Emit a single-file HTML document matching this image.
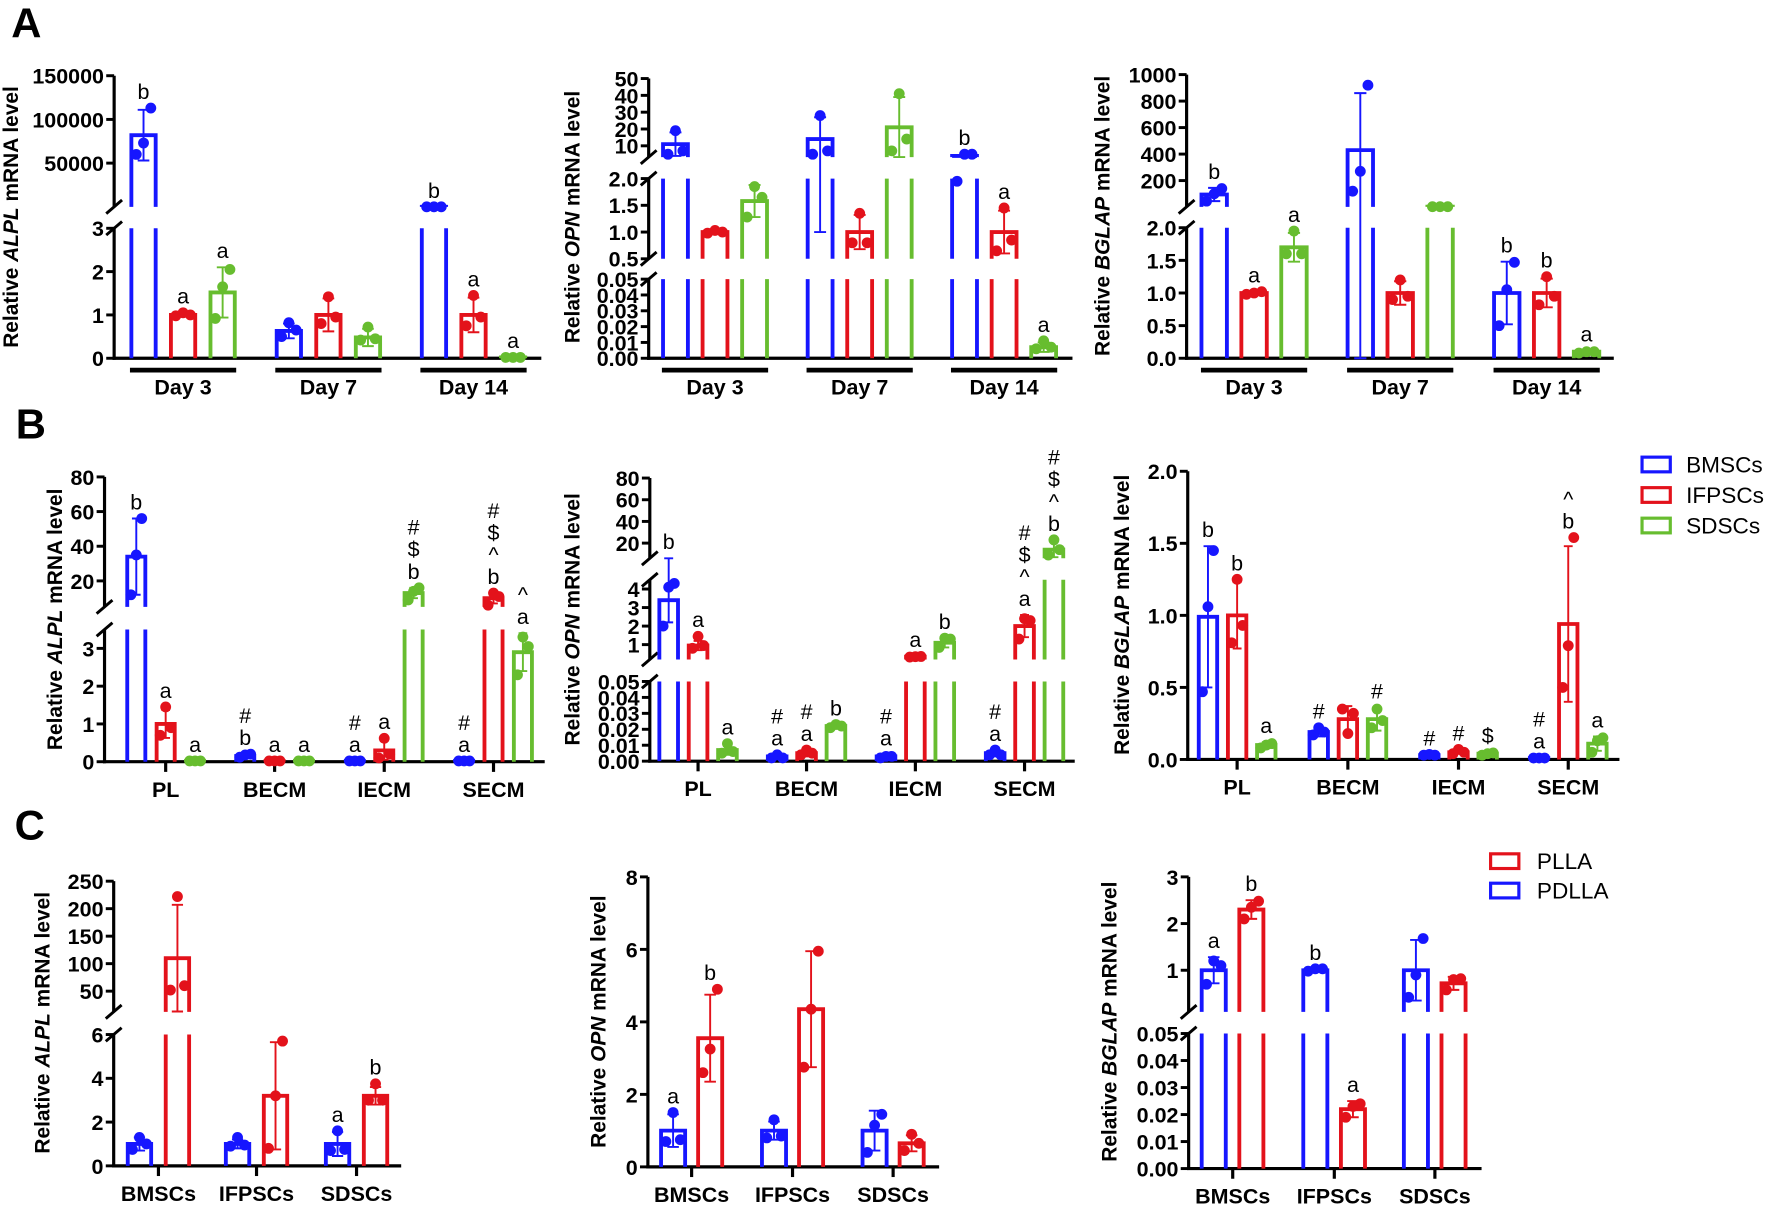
<!DOCTYPE html>
<html><head><meta charset="utf-8"><style>
html,body{margin:0;padding:0;background:#fff;}
svg{display:block;font-family:"Liberation Sans",Arial,sans-serif;}
</style></head><body>
<svg id="fig" width="1772" height="1207" viewBox="0 0 1568 1068" preserveAspectRatio="none" xmlns="http://www.w3.org/2000/svg"></svg>
<script>
// ===== DATA =====
// Panel A1 ALPL
const a1_cats=['Day 3','Day 7','Day 14'];
const a1_bm_mean=[82000,0.63,4];const a1_bm_sd=[29000,0.17,0];const a1_bm_pts=[[60000,73000,113000],[0.5,0.82,0.65],[4,4,4]];
const a1_if_mean=[1.0,1.0,1.0];const a1_if_sd=[0.03,0.38,0.4];const a1_if_pts=[[0.98,1.05,1.0],[0.8,1.42,0.95],[0.75,1.45,0.95]];
const a1_sd_mean=[1.52,0.48,0.02];const a1_sd_sd=[0.58,0.2,0.005];const a1_sd_pts=[[0.92,1.65,2.05],[0.42,0.72,0.45],[0.02,0.02,0.02]];
const a1_bm_ann=[['b'],[],['b']];const a1_if_ann=[['a'],[],['a']];const a1_sd_ann=[['a'],[],['a']];
const a1_ticks=[0,1,2,3,50000,100000,150000];const a1_tickLabels=['0','1','2','3','50000','100000','150000'];
// Panel A2 OPN
const a2_cats=['Day 3','Day 7','Day 14'];
const a2_bm_mean=[11,14,4];const a2_bm_sd=[7,13,0];const a2_bm_pts=[[5,19,7],[5,28,7],[1.95,5,5]];
const a2_if_mean=[1.0,1.0,1.0];const a2_if_sd=[0.03,0.32,0.4];const a2_if_pts=[[0.98,1.03,1.0],[0.8,1.35,0.8],[0.65,1.45,0.85]];
const a2_sd_mean=[1.58,21,0.007];const a2_sd_sd=[0.3,18,0.003];const a2_sd_pts=[[1.28,1.85,1.65],[7,41,14],[0.006,0.011,0.007]];
const a2_bm_ann=[[],[],['b']];const a2_if_ann=[[],[],['a']];const a2_sd_ann=[[],[],['a']];
const a2_ticks=[0,0.01,0.02,0.03,0.04,0.05,0.5,1.0,1.5,2.0,10,20,30,40,50];
const a2_tickLabels=['0.00','0.01','0.02','0.03','0.04','0.05','0.5','1.0','1.5','2.0','10','20','30','40','50'];
// Panel A3 BGLAP
const a3_cats=['Day 3','Day 7','Day 14'];
const a3_bm_mean=[95,430,1.0];const a3_bm_sd=[50,430,0.48];const a3_bm_pts=[[45,100,140],[120,270,920],[0.5,1.05,1.47]];
const a3_if_mean=[1,1,1];const a3_if_sd=[0.02,0.18,0.22];const a3_if_pts=[[0.98,1.0,1.02],[0.9,1.2,0.95],[0.82,1.25,0.95]];
const a3_sd_mean=[1.7,3,0.1];const a3_sd_sd=[0.22,0,0.02];const a3_sd_pts=[[1.6,1.95,1.6],[3,3,3],[0.08,0.1,0.1]];
const a3_bm_ann=[['b'],[],['b']];const a3_if_ann=[['a'],[],['b']];const a3_sd_ann=[['a'],[],['a']];
const a3_ticks=[0,0.5,1.0,1.5,2.0,200,400,600,800,1000];
const a3_tickLabels=['0.0','0.5','1.0','1.5','2.0','200','400','600','800','1000'];
// Panel B1 ALPL
const b1_cats=['PL','BECM','IECM','SECM'];
const b1_bm_mean=[34,0.15,0.02,0.02];const b1_bm_sd=[22,0.04,0,0];const b1_bm_pts=[[12,35,56],[0.12,0.18,0.2],[0.02,0.02,0.02],[0.02,0.02,0.02]];
const b1_if_mean=[1.0,0.02,0.3,10];const b1_if_sd=[0.37,0,0.25,3];const b1_if_pts=[[0.7,1.45,0.9],[0.02,0.02,0.02],[0.1,0.62,0.2],[6,13,11]];
const b1_sd_mean=[0.02,0.02,13,2.9];const b1_sd_sd=[0,0,3,0.5];const b1_sd_pts=[[0.02,0.02,0.02],[0.02,0.02,0.02],[9,14,16],[2.3,3.3,3.05]];
const b1_bm_ann=[['b'],['b','#'],['a','#'],['a','#']];const b1_if_ann=[['a'],['a'],['a'],['b','^','$','#']];const b1_sd_ann=[['a'],['a'],['b','$','#'],['a','^']];
const b1_ticks=[0,1,2,3,20,40,60,80];const b1_tickLabels=['0','1','2','3','20','40','60','80'];
// Panel B2 OPN
const b2_cats=['PL','BECM','IECM','SECM'];
const b2_bm_mean=[3.4,0.003,0.003,0.005];const b2_bm_sd=[1.2,0.001,0.001,0.002];const b2_bm_pts=[[2.0,4.1,4.3],[0.002,0.004,0.002],[0.002,0.003,0.003],[0.004,0.007,0.004]];
const b2_if_mean=[0.95,0.005,0.35,2.0];const b2_if_sd=[0.25,0.002,0.02,0.6];const b2_if_pts=[[0.8,1.45,0.95],[0.004,0.007,0.005],[0.33,0.35,0.36],[1.3,2.4,2.3]];
const b2_sd_mean=[0.007,0.022,1.1,14];const b2_sd_sd=[0.003,0.001,0.25,7];const b2_sd_pts=[[0.005,0.011,0.006],[0.021,0.023,0.022],[0.85,1.35,1.3],[9,23,14]];
const b2_bm_ann=[['b'],['a','#'],['a','#'],['a','#']];const b2_if_ann=[['a'],['a','#'],['a'],['a','^','$','#']];const b2_sd_ann=[['a'],['b'],['b'],['b','^','$','#']];
const b2_ticks=[0,0.01,0.02,0.03,0.04,0.05,1,2,3,4,20,40,60,80];
const b2_tickLabels=['0.00','0.01','0.02','0.03','0.04','0.05','1','2','3','4','20','40','60','80'];
// Panel B3 BGLAP
const b3_cats=['PL','BECM','IECM','SECM'];
const b3_bm_mean=[0.99,0.19,0.03,0.01];const b3_bm_sd=[0.49,0.03,0.005,0.003];const b3_bm_pts=[[0.47,1.06,1.45],[0.17,0.22,0.19],[0.03,0.035,0.03],[0.01,0.01,0.01]];
const b3_if_mean=[1.0,0.28,0.05,0.94];const b3_if_sd=[0.23,0.09,0.01,0.54];const b3_if_pts=[[0.81,1.25,0.93],[0.35,0.18,0.32],[0.04,0.07,0.05],[0.5,0.79,1.54]];
const b3_sd_mean=[0.1,0.28,0.04,0.11];const b3_sd_sd=[0.02,0.08,0.01,0.05];const b3_sd_pts=[[0.08,0.1,0.11],[0.22,0.35,0.27],[0.03,0.04,0.045],[0.05,0.13,0.15]];
const b3_bm_ann=[['b'],['#'],['#'],['a','#']];const b3_if_ann=[['b'],[],['#'],['b','^']];const b3_sd_ann=[['a'],['#'],['$'],['a']];
const b3_ticks=[0,0.5,1.0,1.5,2.0];const b3_tickLabels=['0.0','0.5','1.0','1.5','2.0'];
// Panel C1 ALPL
const c1_cats=['BMSCs','IFPSCs','SDSCs'];
const c1_pd_mean=[1,1,1];const c1_pd_sd=[0.3,0.2,0.55];const c1_pd_pts=[[0.75,1.3,1.0],[0.9,1.3,0.95],[0.7,1.6,0.75]];
const c1_pl_mean=[110,3.2,3.2];const c1_pl_sd=[97,2.45,0.4];const c1_pl_pts=[[52,222,60],[0.8,3.2,5.7],[3.0,3.75,3.0]];
const c1_pd_ann=[[],[],['a']];const c1_pl_ann=[[],[],['b']];
const c1_ticks=[0,2,4,6,50,100,150,200,250];const c1_tickLabels=['0','2','4','6','50','100','150','200','250'];
// Panel C2 OPN
const c2_cats=['BMSCs','IFPSCs','SDSCs'];
const c2_pd_mean=[1,1,1];const c2_pd_sd=[0.45,0.25,0.55];const c2_pd_pts=[[0.7,1.5,0.75],[0.8,1.3,0.85],[0.4,1.15,1.45]];
const c2_pl_mean=[3.55,4.35,0.65];const c2_pl_sd=[1.2,1.6,0.22];const c2_pl_pts=[[2.6,3.25,4.9],[2.75,4.35,5.95],[0.45,0.9,0.65]];
const c2_pd_ann=[['a'],[],[]];const c2_pl_ann=[['b'],[],[]];
const c2_ticks=[0,2,4,6,8];const c2_tickLabels=['0','2','4','6','8'];
// Panel C3 BGLAP
const c3_cats=['BMSCs','IFPSCs','SDSCs'];
const c3_pd_mean=[1,1,1];const c3_pd_sd=[0.28,0.03,0.65];const c3_pd_pts=[[0.7,1.2,1.1],[0.98,1.03,1.03],[0.42,0.9,1.68]];
const c3_pl_mean=[2.3,0.022,0.72];const c3_pl_sd=[0.2,0.003,0.14];const c3_pl_pts=[[2.1,2.35,2.48],[0.019,0.023,0.024],[0.58,0.8,0.82]];
const c3_pd_ann=[['a'],['b'],[]];const c3_pl_ann=[['b'],['a'],[]];
const c3_ticks=[0,0.01,0.02,0.03,0.04,0.05,1,2,3];
const c3_tickLabels=['0.00','0.01','0.02','0.03','0.04','0.05','1','2','3'];

// ===== RENDER =====
const NS='http://www.w3.org/2000/svg';
const svg=document.getElementById('fig');
const BLUE='#1616ff',RED='#e3121b',GREEN='#67bd2f';
function el(tag,parent,attrs){const e=document.createElementNS(NS,tag);for(const k in attrs)e.setAttribute(k,attrs[k]);parent.appendChild(e);return e;}
function yMap(segs,v){for(const s of segs){if(v<=s.hi){if(v>=s.lo)return s.yLo+(v-s.lo)/(s.hi-s.lo)*(s.yHi-s.yLo);return s.yLo;}}return segs[segs.length-1].yHi;}

function panel(name,cfg,cats,series,ticks,tickLabels){
  const g=el('g',svg,{});
  
  
  const segs=cfg.segs, ax=cfg.ax, base=segs[0].yLo;
  segs.forEach((s,i)=>{
    const l=el('line',g,{x1:ax,y1:s.yLo+(i===0?1.3:0),x2:ax,y2:s.yHi,stroke:'#000','stroke-width':2.8});
    
    
    if(i>0){
      [segs[i-1].yHi,s.yLo].forEach(yy=>{
        const b=el('line',g,{x1:ax-7,y1:yy+6,x2:ax+7,y2:yy-6,stroke:'#000','stroke-width':2.6});
        
        
      });
    }
  });
  const xa=el('line',g,{x1:ax-1.4,y1:base,x2:cfg.axEnd,y2:base,stroke:'#000','stroke-width':2.8});
  
  
  ticks.forEach((t,i)=>{
    const y=yMap(segs,t);
    const tl=el('line',g,{x1:ax-7,y1:y,x2:ax,y2:y,stroke:'#000','stroke-width':2.6});
    
    
    const tx=el('text',g,{x:ax-9,y:y+7,'text-anchor':'end','font-size':19,'font-weight':'bold'});
    tx.textContent=tickLabels[i];
    
    
  });
  const tt=el('text',g,{x:cfg.tx,y:cfg.ty,'text-anchor':'middle','font-size':18.5,'font-weight':'bold',transform:`rotate(-90 ${cfg.tx} ${cfg.ty})`});
  tt.appendChild(document.createTextNode('Relative '));
  const it=el('tspan',tt,{'font-style':'italic'});it.textContent=cfg.gene;
  tt.appendChild(document.createTextNode(' mRNA level'));
  
  
  cats.forEach((c,ci)=>{
    const gx=cfg.gx[ci];
    if(cfg.style==='under'){
      const u=el('line',g,{x1:gx-47,y1:base+10.5,x2:gx+47,y2:base+10.5,stroke:'#000','stroke-width':4.2});
      
      
      const lt=el('text',g,{x:gx,y:base+32,'text-anchor':'middle','font-size':19,'font-weight':'bold'});
      lt.textContent=c;
      
      
    } else {
      const tk=el('line',g,{x1:gx,y1:base,x2:gx,y2:base+9,stroke:'#000','stroke-width':2.8});
      
      
      const lt=el('text',g,{x:gx,y:base+31,'text-anchor':'middle','font-size':19,'font-weight':'bold'});
      lt.textContent=c;
      
      
    }
  });
  series.forEach((s,si)=>{
    cats.forEach((c,ci)=>{
      const cx=cfg.gx[ci]+cfg.off[si], bw=cfg.bw, x0=cx-bw/2, x1=cx+bw/2;
      const m=s.mean[ci], sd=s.sd[ci], pts=s.pts[ci];
      let d='';
      for(let i=0;i<segs.length;i++){
        const sg=segs[i];
        if(i>0 && m<sg.lo) break;
        const yb=sg.yLo;
        if(m<=sg.hi){const yt=yMap(segs,m);d+=`M${x0},${yb}L${x0},${yt}L${x1},${yt}L${x1},${yb}`;break;}
        d+=`M${x0},${yb}L${x0},${sg.yHi}M${x1},${yb}L${x1},${sg.yHi}`;
      }
      const bar=el('path',g,{d:d,fill:'none',stroke:s.color,'stroke-width':3.4});
      
      
      if(sd>0){
        const ylo=yMap(segs,Math.max(m-sd,0)), yhi=yMap(segs,m+sd), cw=bw*0.24;
        const eb=el('path',g,{d:`M${cx},${ylo}L${cx},${yhi}M${cx-cw},${yhi}L${cx+cw},${yhi}M${cx-cw},${ylo}L${cx+cw},${ylo}`,fill:'none',stroke:s.color,'stroke-width':1.7});
        
        
      }
      pts.forEach((p,pi)=>{
        const dt=el('circle',g,{cx:cx+(pi-1)*bw*0.3,cy:yMap(segs,p),r:4.8,fill:s.color});
        
        
      });
      const top=Math.max(m+sd,...pts);
      const ay=yMap(segs,top)-8;
      s.ann[ci].forEach((a,ai)=>{
        const at=el('text',g,{x:cx,y:ay-ai*19.5,'text-anchor':'middle','font-size':19});
        at.textContent=a;
        
        
      });
    });
  });
}
function ser(key,color,mean,sd,pts,ann){return {key,color,mean,sd,pts,ann};}

panel('panel-a-alpl',{ax:101,axEnd:479,gene:'ALPL',tx:16,ty:192,style:'under',gx:[162,290.6,419],off:[-35,0,35],bw:21.5,
  segs:[{lo:0,hi:3,yLo:317,yHi:202},{lo:3,hi:150000,yLo:183,yHi:67}]},a1_cats,
  [ser('bmscs',BLUE,a1_bm_mean,a1_bm_sd,a1_bm_pts,a1_bm_ann),ser('ifpscs',RED,a1_if_mean,a1_if_sd,a1_if_pts,a1_if_ann),ser('sdscs',GREEN,a1_sd_mean,a1_sd_sd,a1_sd_pts,a1_sd_ann)],a1_ticks,a1_tickLabels);
panel('panel-a-opn',{ax:574,axEnd:949,gene:'OPN',tx:513,ty:192,style:'under',gx:[632.7,760.7,888.5],off:[-35,0,35],bw:22,
  segs:[{lo:0,hi:0.05,yLo:317,yHi:247},{lo:0.5,hi:2.0,yLo:229,yHi:158},{lo:3.3,hi:50,yLo:139,yHi:69.5}]},a2_cats,
  [ser('bmscs',BLUE,a2_bm_mean,a2_bm_sd,a2_bm_pts,a2_bm_ann),ser('ifpscs',RED,a2_if_mean,a2_if_sd,a2_if_pts,a2_if_ann),ser('sdscs',GREEN,a2_sd_mean,a2_sd_sd,a2_sd_pts,a2_sd_ann)],a2_ticks,a2_tickLabels);
panel('panel-a-bglap',{ax:1050,axEnd:1428,gene:'BGLAP',tx:982,ty:191,style:'under',gx:[1109.7,1239,1368.6],off:[-35.3,0,35.3],bw:22.5,
  segs:[{lo:0,hi:2,yLo:317,yHi:201.5},{lo:2,hi:1000,yLo:183,yHi:66}]},a3_cats,
  [ser('bmscs',BLUE,a3_bm_mean,a3_bm_sd,a3_bm_pts,a3_bm_ann),ser('ifpscs',RED,a3_if_mean,a3_if_sd,a3_if_pts,a3_if_ann),ser('sdscs',GREEN,a3_sd_mean,a3_sd_sd,a3_sd_pts,a3_sd_ann)],a3_ticks,a3_tickLabels);
panel('panel-b-alpl',{ax:92.5,axEnd:482,gene:'ALPL',tx:55,ty:548,style:'tick',gx:[146.6,243,340,436.7],off:[-26,0,26],bw:16,
  segs:[{lo:0,hi:3.5,yLo:674,yHi:557},{lo:5,hi:80,yLo:537,yHi:422}]},b1_cats,
  [ser('bmscs',BLUE,b1_bm_mean,b1_bm_sd,b1_bm_pts,b1_bm_ann),ser('ifpscs',RED,b1_if_mean,b1_if_sd,b1_if_pts,b1_if_ann),ser('sdscs',GREEN,b1_sd_mean,b1_sd_sd,b1_sd_pts,b1_sd_ann)],b1_ticks,b1_tickLabels);
panel('panel-b-opn',{ax:575,axEnd:951,gene:'OPN',tx:513,ty:548,style:'tick',gx:[617.7,713.7,810,906.6],off:[-26,0,26],bw:16.5,
  segs:[{lo:0,hi:0.05,yLo:673.5,yHi:603},{lo:0.2,hi:4.5,yLo:583.5,yHi:513},{lo:6,hi:80,yLo:494,yHi:423}]},b2_cats,
  [ser('bmscs',BLUE,b2_bm_mean,b2_bm_sd,b2_bm_pts,b2_bm_ann),ser('ifpscs',RED,b2_if_mean,b2_if_sd,b2_if_pts,b2_if_ann),ser('sdscs',GREEN,b2_sd_mean,b2_sd_sd,b2_sd_pts,b2_sd_ann)],b2_ticks,b2_tickLabels);
panel('panel-b-bglap',{ax:1051,axEnd:1433,gene:'BGLAP',tx:999,ty:544,style:'tick',gx:[1094.7,1192.7,1290.6,1387.7],off:[-25.8,0,25.8],bw:16.3,
  segs:[{lo:0,hi:2,yLo:672,yHi:417}]},b3_cats,
  [ser('bmscs',BLUE,b3_bm_mean,b3_bm_sd,b3_bm_pts,b3_bm_ann),ser('ifpscs',RED,b3_if_mean,b3_if_sd,b3_if_pts,b3_if_ann),ser('sdscs',GREEN,b3_sd_mean,b3_sd_sd,b3_sd_pts,b3_sd_ann)],b3_ticks,b3_tickLabels);
panel('panel-c-alpl',{ax:100.6,axEnd:355,gene:'ALPL',tx:44,ty:905,style:'tick',gx:[140.2,227,315.5],off:[-16.8,16.8],bw:20.7,
  segs:[{lo:0,hi:6,yLo:1031.6,yHi:915.4},{lo:12.4,hi:250,yLo:895.3,yHi:779.7}]},c1_cats,
  [ser('pdlla',BLUE,c1_pd_mean,c1_pd_sd,c1_pd_pts,c1_pd_ann),ser('plla',RED,c1_pl_mean,c1_pl_sd,c1_pl_pts,c1_pl_ann)],c1_ticks,c1_tickLabels);
panel('panel-c-opn',{ax:573.3,axEnd:831,gene:'OPN',tx:536,ty:904,style:'tick',gx:[612,701.3,790.3],off:[-16.4,16.4],bw:21.3,
  segs:[{lo:0,hi:8,yLo:1032.5,yHi:775.9}]},c2_cats,
  [ser('pdlla',BLUE,c2_pd_mean,c2_pd_sd,c2_pd_pts,c2_pd_ann),ser('plla',RED,c2_pl_mean,c2_pl_sd,c2_pl_pts,c2_pl_ann)],c2_ticks,c2_tickLabels);
panel('panel-c-bglap',{ax:1051.8,axEnd:1311,gene:'BGLAP',tx:988,ty:904,style:'tick',gx:[1090.8,1180.7,1269.7],off:[-16.8,16.5],bw:21.3,
  segs:[{lo:0,hi:0.05,yLo:1034,yHi:914.5},{lo:0.107,hi:3,yLo:895.4,yHi:775.9}]},c3_cats,
  [ser('pdlla',BLUE,c3_pd_mean,c3_pd_sd,c3_pd_pts,c3_pd_ann),ser('plla',RED,c3_pl_mean,c3_pl_sd,c3_pl_pts,c3_pl_ann)],c3_ticks,c3_tickLabels);

[['A',10,33],['B',14,388],['C',13,743]].forEach(p=>{
  const t=el('text',svg,{x:p[1],y:p[2],'font-size':37,'font-weight':'bold'});
  t.textContent=p[0];
  
  
});
const legB=[['BMSCs',BLUE,411],['IFPSCs',RED,438],['SDSCs',GREEN,465]];
legB.forEach(l=>{
  const r=el('rect',svg,{x:1453,y:l[2]-6.5,width:25,height:13,fill:'none',stroke:l[1],'stroke-width':2.8});
  
  
  const t=el('text',svg,{x:1492,y:l[2]+7,'font-size':20});
  t.textContent=l[0];
  
  
});
const legC=[['PLLA',RED,762],['PDLLA',BLUE,788]];
legC.forEach(l=>{
  const r=el('rect',svg,{x:1319,y:l[2]-6.5,width:25,height:13,fill:'none',stroke:l[1],'stroke-width':2.8});
  
  
  const t=el('text',svg,{x:1360,y:l[2]+7,'font-size':20});
  t.textContent=l[0];
  
  
});
</script>
</body></html>
